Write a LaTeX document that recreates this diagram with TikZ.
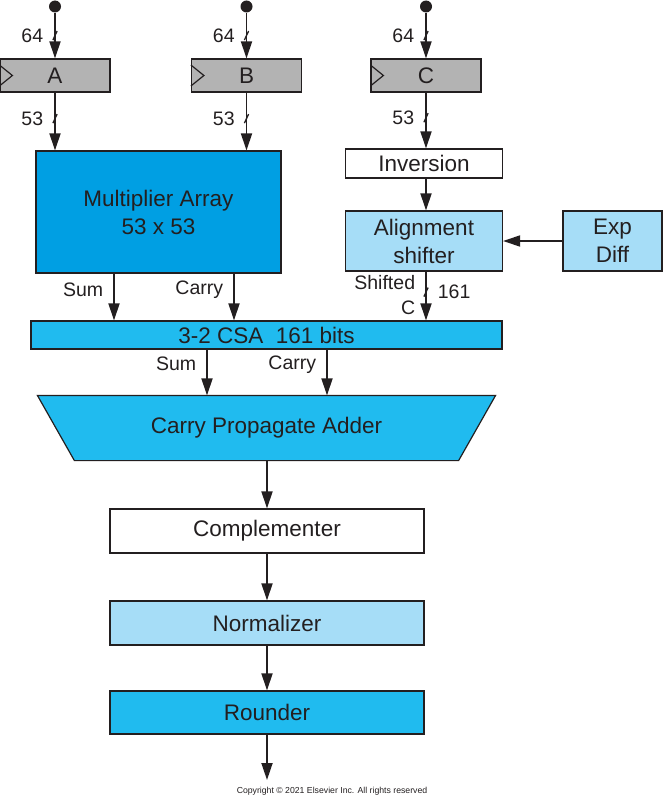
\documentclass[tikz,border=0pt]{standalone}
\usepackage{fontspec}
\setmainfont{Liberation Sans}
\usepackage{tikz}
\usetikzlibrary{arrows.meta, positioning, calc}
\definecolor{lineDark}{HTML}{231F20}
\definecolor{regGray}{HTML}{B3B3B3}
\definecolor{mulBlue}{HTML}{009FE3}
\definecolor{cyanBlue}{HTML}{20BBEF}
\definecolor{paleBlue}{HTML}{A6DDF7}
\tikzset{
  blk/.style={rectangle, draw=lineDark, line width=1.2pt, inner sep=0pt,
              text=lineDark, font=\fontsize{22.5}{28}\selectfont, align=center},
  reg/.style={blk, fill=regGray, minimum width=110pt, minimum height=33pt},
  darkblk/.style={blk, fill=mulBlue},
  cyanblk/.style={blk, fill=cyanBlue},
  paleblk/.style={blk, fill=paleBlue},
  whiteblk/.style={blk, fill=white},
  lbl/.style={inner sep=0pt, text=lineDark, font=\fontsize{19.5}{25}\selectfont},
  wire/.style={-{Triangle[length=17pt, width=11pt]}, line width=1.8pt, draw=lineDark},
  busmark/.style={rectangle, draw=lineDark, line width=1.3pt, minimum width=0pt,
                  minimum height=10pt, inner sep=0pt, rotate=-25},
  pin/.style={circle, fill=lineDark, inner sep=0pt, minimum size=12pt}
}

\begin{document}
\begin{tikzpicture}[x=1pt, y=-1pt]
  \useasboundingbox (0,0) rectangle (663,800);

  % operand registers
  \node[pin] (pinA) at (55,6.5) {};
  \node[pin] (pinB) at (246.5,6.5) {};
  \node[pin] (pinC) at (426,6.5) {};
  \node[reg] (regA) at (55,75.5) {A};
  \node[reg] (regB) at (246.5,75.5) {B};
  \node[reg] (regC) at (426,75.5) {C};
  \foreach \r in {regA, regB, regC}
    \draw[lineDark, line width=1.2pt] ([yshift=10.5pt]\r.west) -- ([xshift=13pt]\r.west)
      -- ([yshift=-10.5pt]\r.west);

  % blocks
  \node[darkblk, minimum width=245pt, minimum height=122pt] (mult) at (158.5,212)
    {Multiplier Array\\53 x 53};
  \node[whiteblk, minimum width=157pt, minimum height=29pt] (inv) at (424,163.5) {Inversion};
  \node[paleblk, minimum width=157pt, minimum height=60pt] (align) at (424,241)
    {Alignment\\shifter};
  \node[paleblk, minimum width=99pt, minimum height=60pt] (expd) at (612.5,241) {Exp\\Diff};
  \node[cyanblk, minimum width=471pt, minimum height=28pt] (csa) at (266.5,335)
    {3-2 CSA\ \ 161 bits};
  \node[blk, draw=none, minimum width=457pt, minimum height=64pt] (cpa) at (266.5,428) {};
  \fill[cyanBlue] (cpa.north west) -- (cpa.north east) -- ([xshift=-37pt]cpa.south east)
    -- ([xshift=37pt]cpa.south west) -- cycle;
  \draw[lineDark, line width=1.2pt] (cpa.north west) -- (cpa.north east)
    -- ([xshift=-37pt]cpa.south east) -- ([xshift=37pt]cpa.south west) -- cycle;
  \node[blk, draw=none] at (cpa.center) {Carry Propagate Adder};
  \node[whiteblk, minimum width=314pt, minimum height=44pt] (comp) at (267,531) {Complementer};
  \node[paleblk, minimum width=314pt, minimum height=44pt] (norm) at (267,623) {Normalizer};
  \node[cyanblk, minimum width=314pt, minimum height=43pt] (round) at (267,712.5) {Rounder};
  \coordinate (out) at (267,780);

  % wires
  \draw[wire] (pinA) -- node[busmark]{} node[lbl, left=11pt]{64} (regA);
  \draw[wire] (pinB) -- node[busmark]{} node[lbl, left=11pt]{64} (regB);
  \draw[wire] (pinC) -- node[busmark]{} node[lbl, left=11pt]{64} (regC);
  \draw[wire] (regA.south) -- node[busmark, pos=.45]{} node[lbl, left=11pt, pos=.45]{53}
    (regA.south |- mult.north);
  \draw[wire] (regB.south) -- node[busmark, pos=.45]{} node[lbl, left=11pt, pos=.45]{53}
    (regB.south |- mult.north);
  \draw[wire] (regC.south) -- node[busmark, pos=.45]{} node[lbl, left=11pt, pos=.45]{53}
    (regC.south |- inv.north);
  \draw[wire] (inv.south -| regC) -- (align.north -| regC);
  \draw[wire] (expd) -- (align);
  \draw[wire] ([xshift=-44.5pt]mult.south) -- node[lbl, left=10pt, pos=.35]{Sum}
    ([xshift=-44.5pt]mult.south |- csa.north);
  \draw[wire] ([xshift=75.5pt]mult.south) -- node[lbl, left=10pt, pos=.35]{Carry}
    ([xshift=75.5pt]mult.south |- csa.north);
  \draw[wire] (align.south -| regC) -- node[busmark, pos=.42]{} node[lbl, right=11pt, pos=.42]{161}
    node[lbl, left=10pt, pos=.49, align=right]{Shifted\\C} (csa.north -| regC);
  \draw[wire] ([xshift=-59.5pt]csa.south) -- node[lbl, left=10pt, pos=.32]{Sum}
    ([xshift=-59.5pt]csa.south |- cpa.north);
  \draw[wire] ([xshift=60.5pt]csa.south) -- node[lbl, left=10pt, pos=.32]{Carry}
    ([xshift=60.5pt]csa.south |- cpa.north);
  \draw[wire] (comp.north |- cpa.south) -- (comp);
  \draw[wire] (comp) -- (norm);
  \draw[wire] (norm) -- (round);
  \draw[wire] (round) -- (out);

  \node[inner sep=0pt, text=lineDark, font=\fontsize{8.7}{10}\selectfont] (copy) at (332,791)
    {Copyright © 2021 Elsevier Inc. All rights reserved};
\end{tikzpicture}
\end{document}
